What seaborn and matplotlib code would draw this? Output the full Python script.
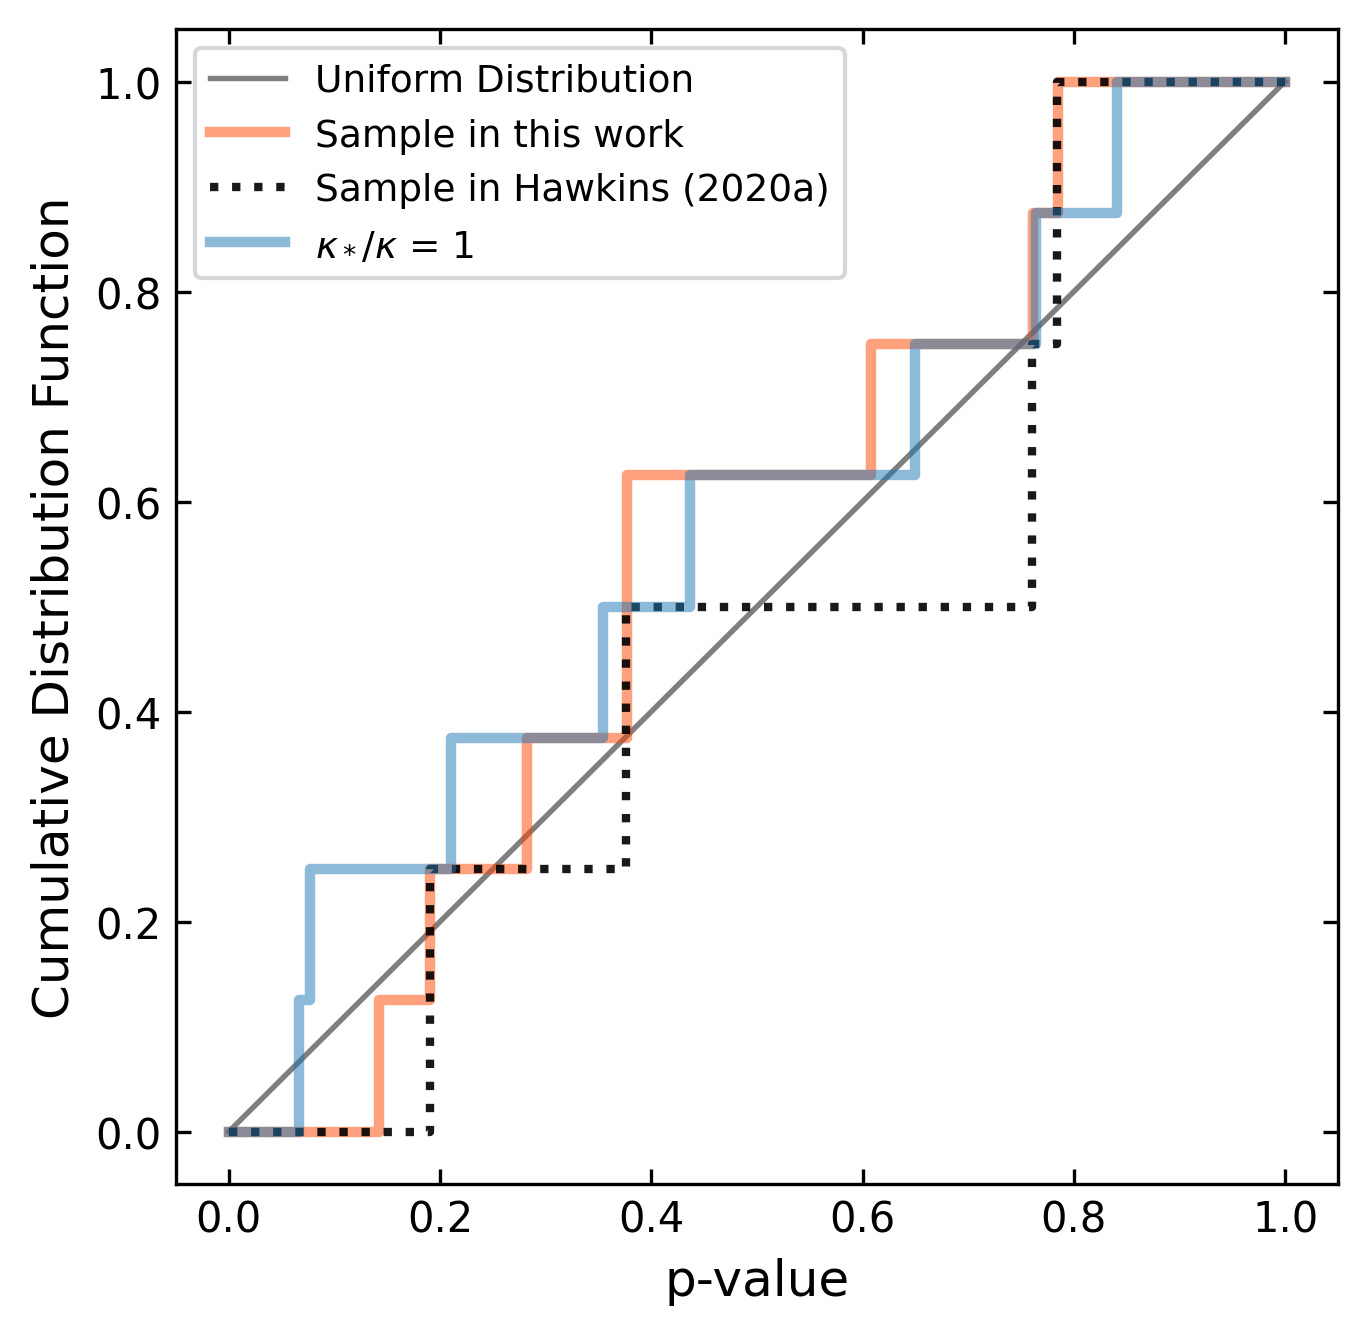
import matplotlib
matplotlib.use("Agg")
import matplotlib.pyplot as plt
import pandas as pd
import seaborn as sns

plt.rcParams['font.family'] = ['DejaVu Sans']
plt.rcParams['mathtext.fontset'] = 'dejavusans'

# p-values (8 objects per sample)
p_this_work = [0.142, 0.190, 0.282, 0.377, 0.377, 0.608, 0.761, 0.785]
p_hawkins = [0.190, 0.190, 0.376, 0.376, 0.760, 0.760, 0.784, 0.784]
p_kappa = [0.066, 0.077, 0.210, 0.354, 0.437, 0.650, 0.764, 0.841]
uniform_x = [0.0, 1.0]
uniform_y = [0.0, 1.0]


def ecdf_frame(pvals):
    # empirical CDF from 0 to 1, step after each p-value
    vals = sorted(pvals)
    n = len(vals)
    x = [0.0] + vals + [1.0]
    y = [0.0] + [(i + 1) / n for i in range(n)] + [1.0]
    return pd.DataFrame({'p': x, 'cdf': y})


fig, ax = plt.subplots(figsize=(4.56, 4.4533), dpi=300)

sns.lineplot(x=uniform_x, y=uniform_y, color='k', alpha=0.5, lw=1.3,
             label='Uniform Distribution', ax=ax)
sns.lineplot(data=ecdf_frame(p_this_work), x='p', y='cdf', estimator=None,
             drawstyle='steps-post', color='orangered', alpha=0.5, lw=2.5,
             label='Sample in this work', ax=ax)
sns.lineplot(data=ecdf_frame(p_hawkins), x='p', y='cdf', estimator=None,
             drawstyle='steps-post', color='k', alpha=0.9, lw=2, ls=':',
             label='Sample in Hawkins (2020a)', ax=ax)
sns.lineplot(data=ecdf_frame(p_kappa), x='p', y='cdf', estimator=None,
             drawstyle='steps-post', color='tab:blue', alpha=0.5, lw=2.5,
             label=r'$\kappa_*/\kappa$ = 1', ax=ax)

ax.set_xlabel('p-value', fontsize=12)
ax.set_ylabel('Cumulative Distribution Function', fontsize=12)
ax.tick_params(direction='in', top=True, right=True, labelsize=10)
ax.set_xticks([0, 0.2, 0.4, 0.6, 0.8, 1.0])
ax.set_yticks([0, 0.2, 0.4, 0.6, 0.8, 1.0])
ax.legend(loc='upper left', fontsize=9)

plt.subplots_adjust(left=0.1287, right=0.978, top=0.9775, bottom=0.113)
plt.savefig('out.png', dpi=300)
